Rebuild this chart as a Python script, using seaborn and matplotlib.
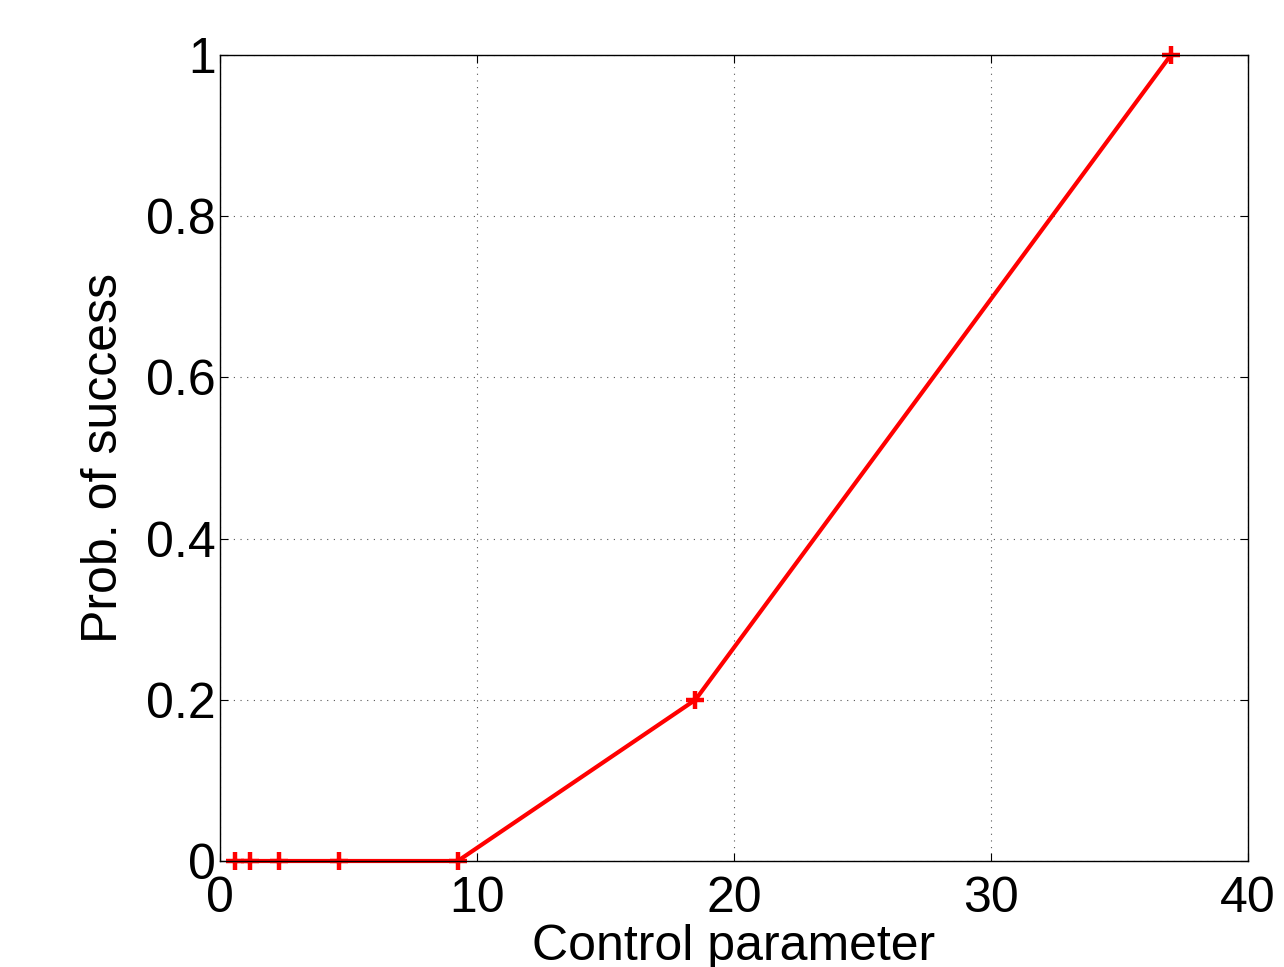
import matplotlib
matplotlib.use("Agg")
import matplotlib.pyplot as plt
import seaborn as sns
import pandas as pd

control = [0.578125, 1.15625, 2.3125, 4.625, 9.25, 18.5, 37.0]
prob = [0.0, 0.0, 0.0, 0.0, 0.0, 0.2, 1.0]
xticks = [0, 10, 20, 30, 40]
yticks = [0, 0.2, 0.4, 0.6, 0.8, 1]
yticklabels = ["0", "0.2", "0.4", "0.6", "0.8", "1"]

sns.set_theme(style="white")
plt.rcParams['font.family'] = ['Liberation Sans', 'DejaVu Sans']

df = pd.DataFrame({"Control parameter": control, "Prob. of success": prob})

fig = plt.figure(figsize=(12.84, 9.67), dpi=100)
ax = fig.add_axes([220/1284, 1-861/967, (1248-220)/1284, (861-55)/967])
sns.lineplot(data=df, x="Control parameter", y="Prob. of success", ax=ax,
             color="red", linewidth=3.0, marker="+", markersize=13,
             markeredgewidth=3.2, markeredgecolor="red", clip_on=False)
ax.set_xlim(0, 40)
ax.set_ylim(0, 1)
ax.set_xticks(xticks)
ax.set_xticklabels([str(t) for t in xticks])
ax.set_yticks(yticks)
ax.set_yticklabels(yticklabels)
ax.grid(True, linestyle=(0, (1, 5)), color="#555555", linewidth=0.8)
ax.tick_params(direction="in", length=6, width=0.8, labelsize=36, colors="black",
               top=True, right=True, bottom=True, left=True)
ax.tick_params(axis="x", pad=11)
ax.tick_params(axis="y", pad=3)
for s in ax.spines.values():
    s.set_color("black")
    s.set_linewidth(1.0)
ax.set_xlabel("Control parameter", fontsize=36, labelpad=1, color="black")
ax.set_ylabel("Prob. of success", fontsize=36, labelpad=14, color="black")
fig.savefig("out.png", dpi=100)
